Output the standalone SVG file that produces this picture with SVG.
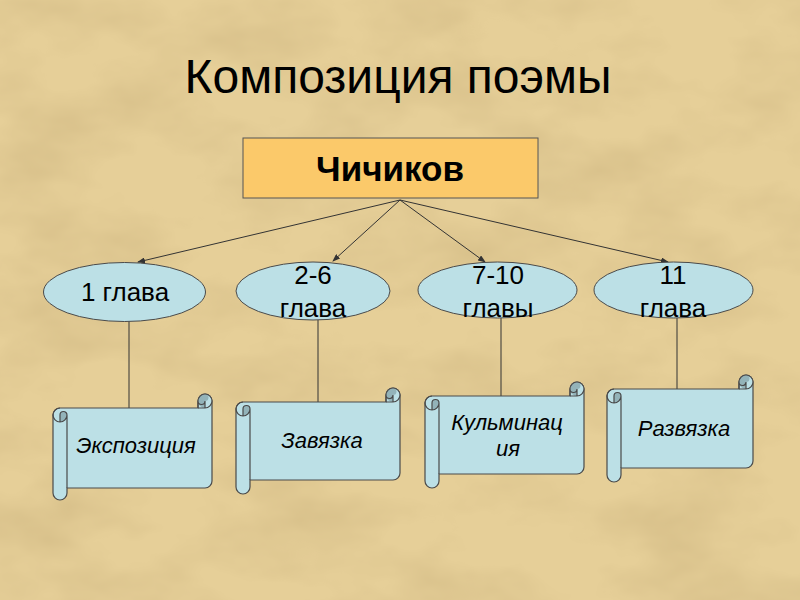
<svg xmlns="http://www.w3.org/2000/svg" width="800" height="600" viewBox="0 0 800 600">
<defs>
<filter id="paper" x="0" y="0" width="100%" height="100%">
<feTurbulence type="fractalNoise" baseFrequency="0.008 0.014" numOctaves="4" seed="7"/>
<feColorMatrix type="matrix" values="0 0 0 0 0.62  0 0 0 0 0.47  0 0 0 0 0.22  1.3 0 0 0 -0.52"/>
</filter>
<marker id="arr" markerWidth="8" markerHeight="6" refX="7" refY="3" orient="auto" markerUnits="userSpaceOnUse">
<path d="M0,0 L8,3 L0,6 z" fill="#333"/>
</marker>
<style>
.t{font-family:"Liberation Sans",Arial,sans-serif;fill:#000;text-anchor:middle}
.el{fill:#BCE0E6;stroke:#4a4a4a;stroke-width:1}
.sc{fill:#BCE0E6;stroke:#4a4a4a;stroke-width:1.2}
.dk{fill:#93B3B9;stroke:none}
.ln{fill:none;stroke:#4a4a4a;stroke-width:1.2}
.con{stroke:#333;stroke-width:1;fill:none}
.it{font-style:italic;font-size:22px}
.ov{font-size:26px}
</style>
</defs>
<rect width="800" height="600" fill="#E6CF98"/>
<rect width="800" height="600" filter="url(#paper)"/>

<text class="t" x="398" y="93" font-size="48">Композиция поэмы</text>

<g id="chichikov">
<rect x="243" y="138" width="295" height="60" fill="#FBC96A" stroke="#555" stroke-width="1"/>
<text class="t" x="390" y="181" font-size="35" font-weight="bold">Чичиков</text>
</g>

<g id="connectors">
<line class="con" x1="400" y1="200" x2="138" y2="262" marker-end="url(#arr)"/>
<line class="con" x1="400" y1="200" x2="333" y2="261" marker-end="url(#arr)"/>
<line class="con" x1="400" y1="200" x2="485" y2="262" marker-end="url(#arr)"/>
<line class="con" x1="400" y1="200" x2="668" y2="262" marker-end="url(#arr)"/>
<line class="con" x1="129" y1="321" x2="129" y2="408"/>
<line class="con" x1="318" y1="320" x2="318" y2="402"/>
<line class="con" x1="501" y1="318" x2="501" y2="396"/>
<line class="con" x1="677" y1="318" x2="677" y2="389"/>
</g>

<g id="ch1">
<ellipse class="el" cx="124.5" cy="292" rx="81" ry="29.5"/>
<text class="t ov" x="125" y="301">1 глава</text>
</g>
<g id="ch2-6">
<ellipse class="el" cx="313" cy="291" rx="77" ry="29"/>
<text class="t ov" x="313" y="284">2-6</text>
<text class="t ov" x="313" y="317">глава</text>
</g>
<g id="ch7-10">
<ellipse class="el" cx="497.5" cy="290" rx="79.5" ry="28"/>
<text class="t ov" x="498" y="284">7-10</text>
<text class="t ov" x="498" y="317">главы</text>
</g>
<g id="ch11">
<ellipse class="el" cx="673.5" cy="290" rx="79.5" ry="28"/>
<text class="t ov" x="673" y="284">11</text>
<text class="t ov" x="673" y="317">глава</text>
</g>

<g id="scroll1">
<path class="sc" d="M53,415 A7,7 0 0 1 60,408 L198,408 L198,401 A7,7 0 0 1 212,401 L212,481 A7,7 0 0 1 205,488 L67,488 L67,493 A7,7 0 0 1 53,493 Z"/>
<circle cx="205" cy="401" r="7" fill="#BCE0E6"/>
<path class="dk" d="M205,408 A7,7 0 0 1 205,394 A3.5,3.5 0 0 1 205,401 Z"/>
<path class="dk" d="M60,422 A7,7 0 0 0 67,415 A3.5,3.5 0 0 0 60,415 Z"/>
<path class="ln" d="M53,415 A7,7 0 0 1 60,408 M198,408 L198,401 A7,7 0 0 1 212,401 M198,408 L205,408 A7,7 0 0 0 212,401 M205,408 L205,401 A3.5,3.5 0 0 1 198,401 M60,422 L60,415 A3.5,3.5 0 0 1 67,415 A7,7 0 0 1 53,415 M67,415 L67,488"/>
<text class="t it" x="136" y="453">Экспозиция</text>
</g>

<g id="scroll2">
<path class="sc" d="M236,409 A7,7 0 0 1 243,402 L386,402 L386,395 A7,7 0 0 1 400,395 L400,473 A7,7 0 0 1 393,480 L250,480 L250,487 A7,7 0 0 1 236,487 Z"/>
<circle cx="393" cy="395" r="7" fill="#BCE0E6"/>
<path class="dk" d="M393,402 A7,7 0 0 1 393,388 A3.5,3.5 0 0 1 393,395 Z"/>
<path class="dk" d="M243,416 A7,7 0 0 0 250,409 A3.5,3.5 0 0 0 243,409 Z"/>
<path class="ln" d="M236,409 A7,7 0 0 1 243,402 M386,402 L386,395 A7,7 0 0 1 400,395 M386,402 L393,402 A7,7 0 0 0 400,395 M393,402 L393,395 A3.5,3.5 0 0 1 386,395 M243,416 L243,409 A3.5,3.5 0 0 1 250,409 A7,7 0 0 1 236,409 M250,409 L250,480"/>
<text class="t it" x="322" y="448">Завязка</text>
</g>

<g id="scroll3">
<path class="sc" d="M425,403 A7,7 0 0 1 432,396 L570,396 L570,389 A7,7 0 0 1 584,389 L584,467 A7,7 0 0 1 577,474 L439,474 L439,481 A7,7 0 0 1 425,481 Z"/>
<circle cx="577" cy="389" r="7" fill="#BCE0E6"/>
<path class="dk" d="M577,396 A7,7 0 0 1 577,382 A3.5,3.5 0 0 1 577,389 Z"/>
<path class="dk" d="M432,410 A7,7 0 0 0 439,403 A3.5,3.5 0 0 0 432,403 Z"/>
<path class="ln" d="M425,403 A7,7 0 0 1 432,396 M570,396 L570,389 A7,7 0 0 1 584,389 M570,396 L577,396 A7,7 0 0 0 584,389 M577,396 L577,389 A3.5,3.5 0 0 1 570,389 M432,410 L432,403 A3.5,3.5 0 0 1 439,403 A7,7 0 0 1 425,403 M439,403 L439,474"/>
<text class="t it" x="507" y="430">Кульминац</text>
<text class="t it" x="508" y="456">ия</text>
</g>

<g id="scroll4">
<path class="sc" d="M607,396 A7,7 0 0 1 614,389 L739,389 L739,382 A7,7 0 0 1 753,382 L753,461 A7,7 0 0 1 746,468 L621,468 L621,475 A7,7 0 0 1 607,475 Z"/>
<circle cx="746" cy="382" r="7" fill="#BCE0E6"/>
<path class="dk" d="M746,389 A7,7 0 0 1 746,375 A3.5,3.5 0 0 1 746,382 Z"/>
<path class="dk" d="M614,403 A7,7 0 0 0 621,396 A3.5,3.5 0 0 0 614,396 Z"/>
<path class="ln" d="M607,396 A7,7 0 0 1 614,389 M739,389 L739,382 A7,7 0 0 1 753,382 M739,389 L746,389 A7,7 0 0 0 753,382 M746,389 L746,382 A3.5,3.5 0 0 1 739,382 M614,403 L614,396 A3.5,3.5 0 0 1 621,396 A7,7 0 0 1 607,396 M621,396 L621,468"/>
<text class="t it" x="684" y="436">Развязка</text>
</g>
</svg>
